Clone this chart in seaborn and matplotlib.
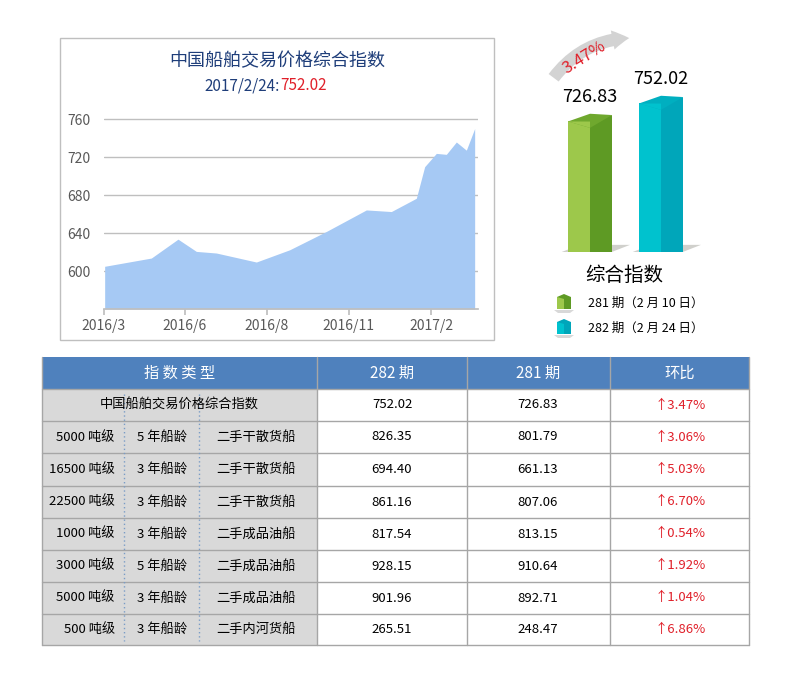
import matplotlib
matplotlib.use("Agg")
import matplotlib.pyplot as plt
import seaborn as sns
import pandas as pd
from matplotlib.patches import Rectangle, Polygon, FancyArrowPatch

sns.set_theme(style="white")
plt.rcParams['font.family'] = ['Noto Sans CJK SC', 'DejaVu Sans']

# ---- data ----
area_x = [135, 275, 355, 410, 470, 590, 690, 800, 920, 995, 1070, 1095, 1130, 1160, 1190, 1220, 1245]
area_y = [605, 613.7, 633.6, 620.7, 619, 609.5, 622.4, 641.7, 664.4, 662.7, 676.7, 710, 724, 723, 736, 727.4, 750.2]
tick_pos = [133, 376, 622, 867, 1115]
tick_labels = ["2016/3", "2016/6", "2016/8", "2016/11", "2017/2"]
y_ticks = [600, 640, 680, 720, 760]

bar_periods = ["281 期（2 月 10 日）", "282 期（2 月 24 日）"]
bar_values = [726.83, 752.02]
bar_change = "3.47%"

col_headers = ["指 数 类 型", "282 期", "281 期", "环比"]
row_tonnage = ["", "5000 吨级", "16500 吨级", "22500 吨级", "1000 吨级", "3000 吨级", "5000 吨级", "500 吨级"]
row_age = ["", "5 年船龄", "3 年船龄", "3 年船龄", "3 年船龄", "5 年船龄", "3 年船龄", "3 年船龄"]
row_type = ["中国船舶交易价格综合指数", "二手干散货船", "二手干散货船", "二手干散货船", "二手成品油船",
            "二手成品油船", "二手成品油船", "二手内河货船"]
val_282 = [752.02, 826.35, 694.40, 861.16, 817.54, 928.15, 901.96, 265.51]
val_281 = [726.83, 801.79, 661.13, 807.06, 813.15, 910.64, 892.71, 248.47]
ratio = ["3.47%", "3.06%", "5.03%", "6.70%", "0.54%", "1.92%", "1.04%", "6.86%"]

W, H = 793, 690
fig = plt.figure(figsize=(W / 100, H / 100), dpi=100)
bg = fig.add_axes([0, 0, 1, 1])
bg.set_xlim(0, W); bg.set_ylim(H, 0); bg.axis("off")

def box(l, t, r, b):
    return [l / W, 1 - b / H, (r - l) / W, (b - t) / H]

# chart panel
bg.add_patch(Rectangle((60, 38), 434, 302, fill=False, ec="#BFBFBF", lw=1))
bg.text(277, 61, "中国船舶交易价格综合指数", ha="center", va="center", fontsize=13, color="#1F3E7A")
bg.text(280, 86, "2017/2/24:", ha="right", va="center", fontsize=11, color="#1F3E7A")
bg.text(280, 86, "752.02", ha="left", va="center", fontsize=11, color="#E0202A")

ax = fig.add_axes(box(104, 105, 478, 309))
ax.patch.set_alpha(0)
df = pd.DataFrame({"x": area_x, "y": area_y})
ax.fill_between(df["x"], 560, df["y"], color="#A6C9F4", lw=0, zorder=2)
ax.set_xlim(133, 1255); ax.set_ylim(560, 775)
ax.set_yticks(y_ticks)
ax.set_xticks(tick_pos); ax.set_xticklabels(tick_labels)
ax.grid(axis="y", color="#BFBFBF", lw=1, zorder=1)
for s in ["top", "right", "left"]:
    ax.spines[s].set_visible(False)
ax.spines["bottom"].set_color("#BFBFBF")
ax.tick_params(axis="x", colors="#595959", labelsize=10, length=4, color="#BFBFBF", bottom=True)
ax.tick_params(axis="y", colors="#595959", labelsize=10, length=0, pad=10)

# 3D bars
base = 535
bx = fig.add_axes(box(540, 60, 720, 252))
bx.patch.set_alpha(0); bx.axis("off")
bx.set_xlim(0, 180); bx.set_ylim(base, base + 192 / 0.714)
xs = [28, 99]
fronts = ["#9DC84B", "#00C2CE"]
sides = ["#5E9A24", "#00A6BA"]
tops = ["#6FA82E", "#00AFC0"]
d = 9
for x, v, fc, sc, tc in zip(xs, bar_values, fronts, sides, tops):
    bx.add_patch(Polygon([(x - 10, base - 2), (x + 40, base - 2), (x + 62, base + 10), (x + 12, base + 10)],
                         color="#D0D0CC", lw=0, zorder=1))
    bx.bar([x], [v - base - d], bottom=base, width=22, align="edge", color=fc, lw=0, zorder=2)
    bx.add_patch(Polygon([(x + 22, base), (x + 44, base), (x + 44, v), (x + 22, v - d)], color=sc, lw=0, zorder=2))
    bx.add_patch(Polygon([(x, v - d), (x + 22, v - 2 * d), (x + 44, v), (x + 22, v + d * 0.2)], color=tc, lw=0, zorder=3))
    bx.add_patch(Polygon([(x, v - d), (x + 22, v - 2 * d + 0.1), (x + 22, v - d - 0.1 + 0), (x, v - d)], color=fc, lw=0, zorder=3))
    bx.text(x + 22, v + 12, f"{v:.2f}", ha="center", va="bottom", fontsize=13, color="black")

arr = FancyArrowPatch((552, 80), (632, 38), connectionstyle="arc3,rad=-0.25",
                      arrowstyle="simple,head_width=14,head_length=12,tail_width=9", color="#D3D3D3", lw=0)
bg.add_patch(arr)
bg.text(584, 58, bar_change, rotation=32, ha="center", va="center", fontsize=12, color="#E0202A")
bg.text(624, 275, "综合指数", ha="center", va="center", fontsize=14, color="black")
for (y, fc, sc, lab) in [(302, fronts[0], sides[0], bar_periods[0]), (327, fronts[1], sides[1], bar_periods[1])]:
    bg.add_patch(Polygon([(554, y + 8), (574, y + 8), (570, y + 11), (558, y + 11)], color="#D8D8D8", lw=0))
    bg.add_patch(Rectangle((557, y - 5), 7, 12, color=fc, lw=0))
    bg.add_patch(Rectangle((564, y - 5), 7, 12, color=sc, lw=0))
    bg.add_patch(Polygon([(557, y - 5), (564, y - 8), (571, y - 5), (564, y - 3)], color=sc, lw=0))
    bg.text(588, y + 1, lab, ha="left", va="center", fontsize=9, color="black")

# table
cols = [42, 317, 467, 610, 749]
rows = [357, 389, 421, 453, 486, 518, 550, 582, 614, 645]
bg.add_patch(Rectangle((cols[0], rows[0]), cols[-1] - cols[0], rows[1] - rows[0], color="#4F81BD", lw=0))
bg.add_patch(Rectangle((cols[0], rows[1]), cols[1] - cols[0], rows[-1] - rows[1], color="#D9D9D9", lw=0))
for i, h in enumerate(col_headers):
    bg.text((cols[i] + cols[i + 1]) / 2, (rows[0] + rows[1]) / 2, h, ha="center", va="center",
            fontsize=11, color="white")
for y in rows[1:]:
    bg.plot([cols[0], cols[-1]], [y, y], color="#A6A6A6", lw=1)
for x in cols:
    bg.plot([x, x], [rows[0], rows[-1]], color="#A6A6A6", lw=1)
for x in [124, 199]:
    bg.plot([x, x], [rows[2] - 27, rows[-1] - 4], color="#7A9CC6", lw=1, ls=(0, (1, 2)))
for i in range(len(row_type)):
    cy = (rows[i + 1] + rows[i + 2]) / 2
    if i == 0:
        bg.text((cols[0] + cols[1]) / 2, cy, row_type[i], ha="center", va="center", fontsize=9.5, color="black")
    else:
        bg.text(115, cy, row_tonnage[i], ha="right", va="center", fontsize=9.5, color="black")
        bg.text(162, cy, row_age[i], ha="center", va="center", fontsize=9.5, color="black")
        bg.text(256, cy, row_type[i], ha="center", va="center", fontsize=9.5, color="black")
    bg.text(392, cy, f"{val_282[i]:.2f}", ha="center", va="center", fontsize=9.5, color="black")
    bg.text(538, cy, f"{val_281[i]:.2f}", ha="center", va="center", fontsize=9.5, color="black")
    bg.text(680, cy, "↑" + ratio[i], ha="center", va="center", fontsize=9.5, color="#E0202A")

fig.savefig("out.png", dpi=100)
